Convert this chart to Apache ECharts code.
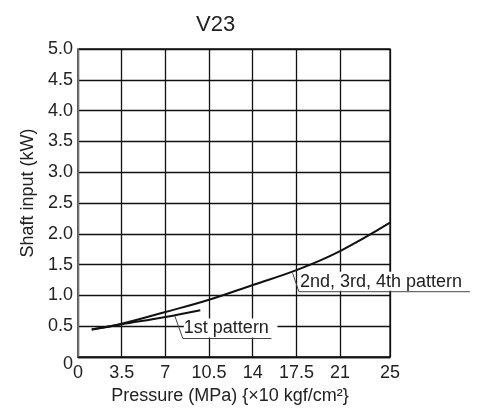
<!DOCTYPE html>
<html>
<head>
<meta charset="utf-8">
<script src="https://cdn.jsdelivr.net/npm/echarts@6/dist/echarts.min.js"></script>
<style>
  html, body { margin: 0; padding: 0; background: #fff; }
  #chart { width: 482px; height: 410px; }
</style>
</head>
<body>
<div id="chart"></div>
<script>
// tick values
var xTicks = [0, 3.5, 7, 10.5, 14, 17.5, 21, 25];
// 2nd, 3rd, 4th pattern curve
var pressure234 = [1.1, 3.5, 7, 10.5, 14, 17.5, 21, 25];
var shaft234 = [0.445, 0.54, 0.73, 0.93, 1.17, 1.41, 1.72, 2.18];
// 1st pattern curve
var pressure1 = [1.1, 3.5, 7, 9.8];
var shaft1 = [0.445, 0.53, 0.65, 0.76];
// annotation anchors: [point on curve, elbow, end of underline] in data units
var label234 = { text: '2nd, 3rd, 4th pattern', pts: [[17.2, 1.36], [17.7, 1.06], [31.4, 1.06]] };
var label1 = { text: '1st pattern', pts: [[7.75, 0.67], [8.4, 0.30], [15.5, 0.30]] };

function pairs(xs, ys) {
    var res = [];
    for (var i = 0; i < xs.length; i++) res.push([xs[i], ys[i]]);
    return res;
}

var font = 'Liberation Sans, Arial, Helvetica, sans-serif';
var myChart = echarts.init(document.getElementById('chart'));

var option = {
    backgroundColor: '#fff',
    animation: false,
    title: {
        text: 'V23',
        left: 191,
        top: 9,
        textStyle: { fontFamily: font, fontSize: 22, fontWeight: 'normal', color: '#222' }
    },
    grid: {
        left: 78, top: 49, right: 92, bottom: 53,
        show: true, borderColor: '#111', borderWidth: 1.3
    },
    xAxis: {
        type: 'value',
        min: 0, max: 25,
        name: 'Pressure (MPa) {×10 kgf/cm²}',
        nameLocation: 'middle',
        nameGap: 25,
        nameTextStyle: { fontFamily: font, fontSize: 18, color: '#222', padding: [0, 8, 0, 0] },
        axisLine: { lineStyle: { color: '#111', width: 1.3 } },
        axisTick: { show: false, customValues: xTicks },
        axisLabel: { customValues: xTicks, fontFamily: font, fontSize: 18, color: '#222', margin: 7 },
        splitLine: { show: true, lineStyle: { color: '#111', width: 1.3 } }
    },
    yAxis: {
        type: 'value',
        min: 0, max: 5, interval: 0.5,
        name: 'Shaft input (kW)',
        nameLocation: 'middle',
        nameGap: 41,
        nameTextStyle: { fontFamily: font, fontSize: 18, color: '#222', padding: [0, 0, 0, 20] },
        axisLine: { show: true, lineStyle: { color: '#777', width: 1.3 } },
        axisTick: { show: false },
        axisLabel: {
            fontFamily: font, fontSize: 18, color: '#222', margin: 5,
            formatter: function (v) { return v === 0 ? '{z|0}' : v.toFixed(1); },
            rich: { z: { fontFamily: font, fontSize: 18, color: '#222', padding: [14, 0, 0, 0] } }
        },
        splitLine: { show: true, lineStyle: { color: '#111', width: 1.3 } }
    },
    series: [
        {
            name: '2nd, 3rd, 4th pattern',
            type: 'line',
            smooth: 0.4,
            showSymbol: false,
            data: pairs(pressure234, shaft234),
            lineStyle: { color: '#111', width: 2 }
        },
        {
            name: '1st pattern',
            type: 'line',
            smooth: 0.4,
            showSymbol: false,
            data: pairs(pressure1, shaft1),
            lineStyle: { color: '#111', width: 2 }
        }
    ]
};
myChart.setOption(option);

function annotation(lab) {
    var p = lab.pts.map(function (d) { return myChart.convertToPixel({ gridIndex: 0 }, d); });
    return [
        {
            type: 'rect',
            shape: { x: p[1][0] + 1, y: p[1][1] - 20, width: p[2][0] - p[1][0] + 5, height: 19 },
            style: { fill: '#fff' },
            z: 10
        },
        {
            type: 'polyline',
            shape: { points: p },
            style: { stroke: '#444', lineWidth: 1, fill: null },
            z: 11
        },
        {
            type: 'text',
            x: p[1][0] + 1,
            y: p[1][1] - 1,
            style: {
                text: lab.text, fontFamily: font, fontSize: 18, fill: '#222',
                verticalAlign: 'bottom'
            },
            z: 12
        }
    ];
}

function drawAnnotations() {
    myChart.setOption({ graphic: { elements: annotation(label234).concat(annotation(label1)) } });
}
drawAnnotations();

window.addEventListener('resize', function () {
    myChart.resize();
    drawAnnotations();
});
</script>
</body>
</html>
